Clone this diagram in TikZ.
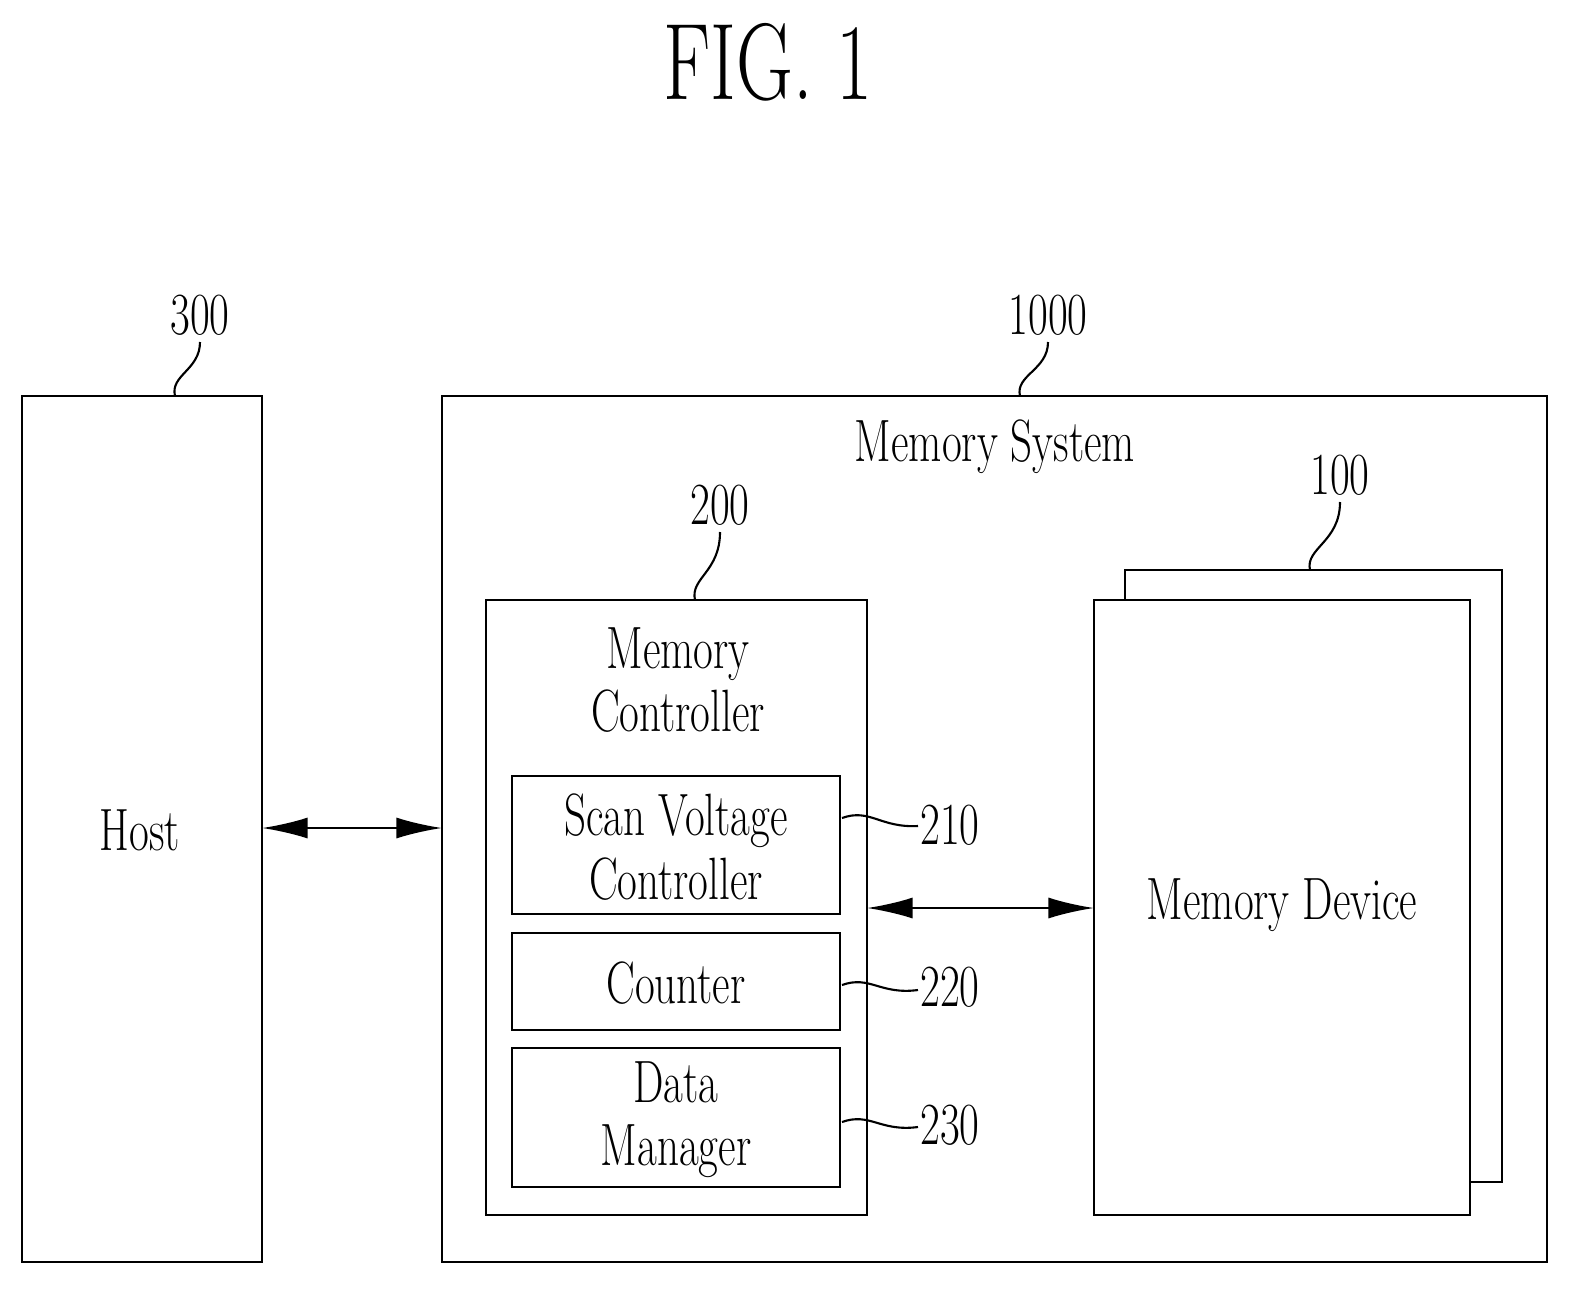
\documentclass[tikz,border=0pt]{standalone}
\usetikzlibrary{arrows.meta}
\newcommand{\cnd}[1]{\scalebox{0.72}[1]{#1}}
\begin{document}
\begin{tikzpicture}[x=0.02cm,y=-0.02cm,
  box/.style={draw,line width=1.3pt},
  txt/.style={font=\fontsize{34}{40}\selectfont,align=center,inner sep=0},
  num/.style={font=\fontsize{34}{40}\selectfont,inner sep=0},
  lead/.style={line width=1.2pt},
  arr/.style={line width=1.3pt,{Latex[length=26pt,width=12pt]}-{Latex[length=26pt,width=12pt]}}]
\useasboundingbox (0,0) rectangle (1594,1305);
\node[font=\fontsize{62}{70}\selectfont,inner sep=0] (title) at (768,62) {\cnd{FIG. 1}};
% host
\draw[box] (22,396) rectangle (262,1262);
\node[txt] (host) at (140,830) {\cnd{Host}};
\coordinate (hostE) at (262,828);
\node[num] (n300) at (200,315) {\cnd{300}};
\draw[lead] (175,396) .. controls (170,375) and (200,370) .. (200,342);
% memory system
\draw[box] (442,396) rectangle (1547,1262);
\coordinate (msW) at (442,828);
\node[txt] (ms) at (995,447) {\cnd{Memory System}};
\node[num] (n1000) at (1048,315) {\cnd{1000}};
\draw[lead] (1020,396) .. controls (1015,375) and (1048,370) .. (1048,342);
% memory controller
\draw[box] (486,600) rectangle (867,1215);
\coordinate (mcE) at (867,908);
\node[txt] (mc) at (678,680) {\cnd{Memory}\\[-4pt]\cnd{Controller}};
\node[num] (n200) at (720,505) {\cnd{200}};
\draw[lead] (695,600) .. controls (690,578) and (720,572) .. (720,532);
% sub-blocks
\draw[box] (512,776) rectangle (840,914);
\node[txt] (svc) at (676,847) {\cnd{Scan Voltage}\\[-4pt]\cnd{Controller}};
\draw[box] (512,933) rectangle (840,1030);
\node[txt] (cnt) at (676,983) {\cnd{Counter}};
\draw[box] (512,1048) rectangle (840,1187);
\node[txt] (dm) at (676,1120) {\cnd{Data}\\[-4pt]\cnd{Manager}};
\node[num] (n210) at (950,825) {\cnd{210}};
\node[num] (n220) at (950,987) {\cnd{220}};
\node[num] (n230) at (950,1125) {\cnd{230}};
\draw[lead] (842,818) .. controls (870,808) and (880,828) .. (918,826);
\draw[lead] (842,985) .. controls (870,975) and (880,995) .. (918,990);
\draw[lead] (842,1122) .. controls (870,1112) and (880,1132) .. (918,1127);
% memory device
\draw[box] (1125,600) -- (1125,570) -- (1502,570) -- (1502,1182) -- (1470,1182);
\draw[box,fill=white] (1094,600) rectangle (1470,1215);
\coordinate (mdW) at (1094,908);
\node[txt] (md) at (1282,905) {\cnd{Memory Device}};
\node[num] (n100) at (1340,475) {\cnd{100}};
\draw[lead] (1310,570) .. controls (1305,548) and (1340,542) .. (1340,502);
% arrows
\draw[arr] (hostE) -- (msW);
\draw[arr] (mcE) -- (mdW);
\end{tikzpicture}
\end{document}
